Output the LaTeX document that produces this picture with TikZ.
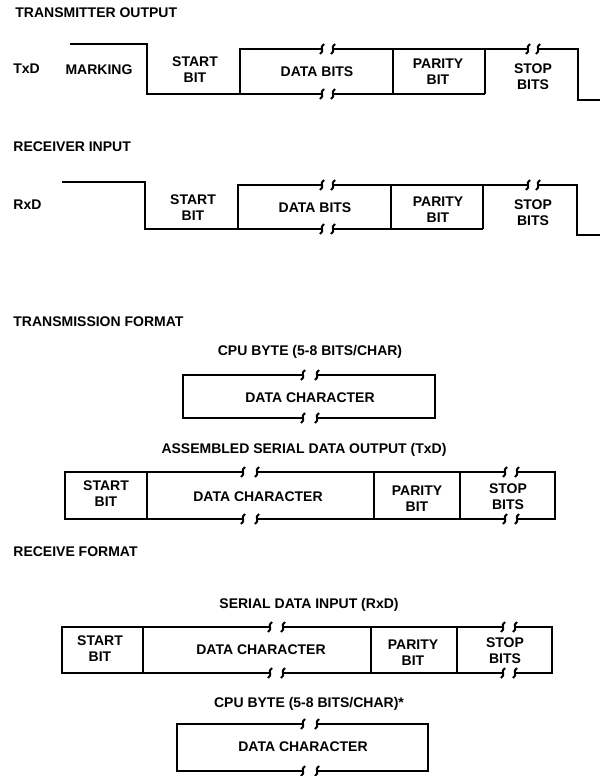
\documentclass[tikz,border=0pt]{standalone}
\usepackage{fontspec}
\setmainfont{Liberation Sans}

\begin{document}
\begin{tikzpicture}[
  x=0.5pt,y=-0.5pt,
  wave/.style={line width=1.3pt},
  lab/.style={font=\fontsize{7}{8}\selectfont\bfseries, align=center, inner sep=0pt},
  title/.style={font=\fontsize{7}{8}\selectfont\bfseries, anchor=west, inner sep=0pt},
  brkmark/.pic={\draw[line width=1pt] (-2,5) .. controls (3,2) and (-3,-2) .. (2,-5);}
]
\useasboundingbox (0,0) rectangle (600,776);

% -------------------------
% Transmitter output (TxD)
% -------------------------
\node[title] (tx_title) at (15,13) {TRANSMITTER OUTPUT};
\node[title] (txd) at (13,69) {TxD};
\node[lab] (tx_mark) at (99,70) {MARKING};

\draw[wave] (70,44) -| (147,94) -- (322,94);
\draw[wave] (333,94) -- (485,94);
\draw[wave] (240,94) -- (240,49) -- (322,49);
\draw[wave] (333,49) -- (528,49);
\draw[wave] (538,49) -| (578,100) -- (600,100);
\draw[wave] (393,49) -- (393,94);
\draw[wave] (485,49) -- (485,94);
\pic at (322,49) {brkmark}; \pic at (333,49) {brkmark};
\pic at (322,94) {brkmark}; \pic at (333,94) {brkmark};
\pic at (528,49) {brkmark}; \pic at (538,49) {brkmark};

\node[lab] (tx_start) at (195,70) {START\\BIT};
\node[lab] (tx_data) at (317,72) {DATA BITS};
\node[lab] (tx_par) at (438,72) {PARITY\\BIT};
\node[lab] (tx_stop) at (533,77) {STOP\\BITS};

% -------------------------
% Receiver input (RxD)
% -------------------------
\node[title] (rx_title) at (13,147) {RECEIVER INPUT};
\node[title] (rxd) at (13,205) {RxD};

\draw[wave] (62,182) -| (145,229) -- (322,229);
\draw[wave] (333,229) -- (483,229);
\draw[wave] (238,229) -- (238,185) -- (322,185);
\draw[wave] (333,185) -- (528,185);
\draw[wave] (538,185) -| (577,235) -- (600,235);
\draw[wave] (391,185) -- (391,229);
\draw[wave] (483,185) -- (483,229);
\pic at (322,185) {brkmark}; \pic at (333,185) {brkmark};
\pic at (322,229) {brkmark}; \pic at (333,229) {brkmark};
\pic at (528,185) {brkmark}; \pic at (538,185) {brkmark};

\node[lab] (rx_start) at (193,208) {START\\BIT};
\node[lab] (rx_data) at (315,208) {DATA BITS};
\node[lab] (rx_par) at (438,210) {PARITY\\BIT};
\node[lab] (rx_stop) at (533,213) {STOP\\BITS};

% -------------------------
% Transmission format
% -------------------------
\node[title] (tf_title) at (13,322) {TRANSMISSION FORMAT};
\node[lab] (tf_cpu) at (310,352) {CPU BYTE (5-8 BITS/CHAR)};

\draw[wave] (303,375) -- (183,375) -- (183,418) -- (303,418);
\draw[wave] (317,375) -- (435,375) -- (435,418) -- (317,418);
\pic at (303,375) {brkmark}; \pic at (317,375) {brkmark};
\pic at (303,418) {brkmark}; \pic at (317,418) {brkmark};
\node[lab] (tf_char) at (310,398) {DATA CHARACTER};

\node[lab] (tf_ser) at (304,450) {ASSEMBLED SERIAL DATA OUTPUT (TxD)};

\draw[wave] (243,472) -- (65,472) -- (65,519) -- (243,519);
\draw[wave] (257,472) -- (505,472);
\draw[wave] (257,519) -- (505,519);
\draw[wave] (517,472) -- (555,472) -- (555,519) -- (517,519);
\draw[wave] (147,472) -- (147,519);
\draw[wave] (374,472) -- (374,519);
\draw[wave] (460,472) -- (460,519);
\pic at (243,472) {brkmark}; \pic at (257,472) {brkmark};
\pic at (243,519) {brkmark}; \pic at (257,519) {brkmark};
\pic at (505,472) {brkmark}; \pic at (517,472) {brkmark};
\pic at (505,519) {brkmark}; \pic at (517,519) {brkmark};

\node[lab] (tf_start) at (106,494) {START\\BIT};
\node[lab] (tf_data) at (258,497) {DATA CHARACTER};
\node[lab] (tf_par) at (417,499) {PARITY\\BIT};
\node[lab] (tf_stop) at (508,497) {STOP\\BITS};

% -------------------------
% Receive format
% -------------------------
\node[title] (rf_title) at (13,552) {RECEIVE FORMAT};
\node[lab] (rf_ser) at (309,605) {SERIAL DATA INPUT (RxD)};

\draw[wave] (270,627) -- (62,627) -- (62,673) -- (270,673);
\draw[wave] (283,627) -- (503,627);
\draw[wave] (283,673) -- (503,673);
\draw[wave] (515,627) -- (552,627) -- (552,673) -- (515,673);
\draw[wave] (143,627) -- (143,673);
\draw[wave] (371,627) -- (371,673);
\draw[wave] (457,627) -- (457,673);
\pic at (270,627) {brkmark}; \pic at (283,627) {brkmark};
\pic at (270,673) {brkmark}; \pic at (283,673) {brkmark};
\pic at (503,627) {brkmark}; \pic at (515,627) {brkmark};
\pic at (503,673) {brkmark}; \pic at (515,673) {brkmark};

\node[lab] (rf_start) at (100,649) {START\\BIT};
\node[lab] (rf_data) at (261,650) {DATA CHARACTER};
\node[lab] (rf_par) at (413,653) {PARITY\\BIT};
\node[lab] (rf_stop) at (505,651) {STOP\\BITS};

\node[lab] (rf_cpu) at (309,704) {CPU BYTE (5-8 BITS/CHAR)*};

\draw[wave] (303,724) -- (177,724) -- (177,771) -- (303,771);
\draw[wave] (317,724) -- (428,724) -- (428,771) -- (317,771);
\pic at (303,724) {brkmark}; \pic at (317,724) {brkmark};
\pic at (303,771) {brkmark}; \pic at (317,771) {brkmark};
\node[lab] (rf_char) at (303,747) {DATA CHARACTER};

\end{tikzpicture}
\end{document}
